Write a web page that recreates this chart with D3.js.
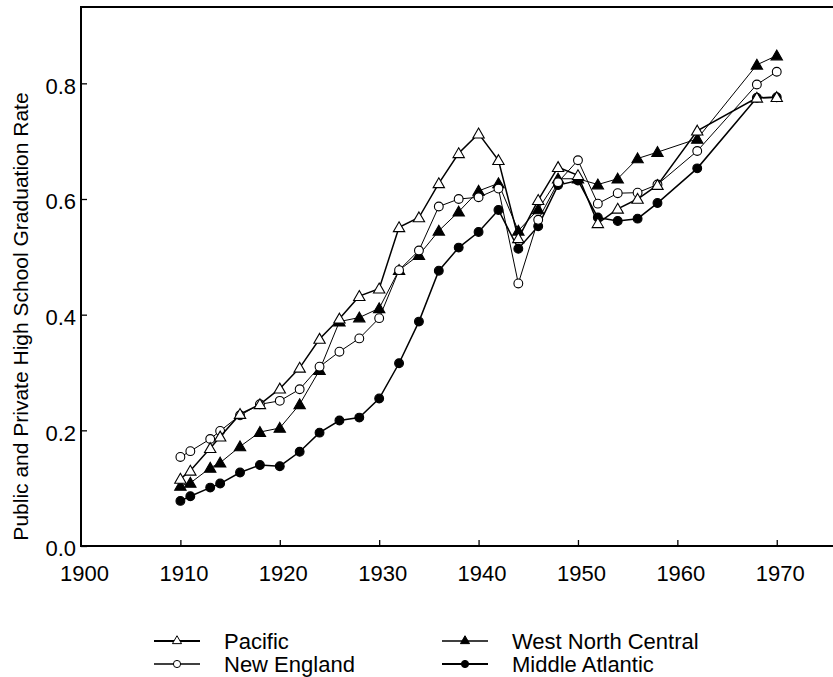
<!DOCTYPE html>
<html>
<head>
<meta charset="utf-8">
<script src="https://cdn.jsdelivr.net/npm/d3@7"></script>
<style>
  body { margin: 0; background: #fff; }
  svg { display: block; font-family: "Liberation Sans", Arial, sans-serif; }
</style>
</head>
<body>
<svg></svg>
<script>
// Svg element dimensions
const width = 833;
const height = 677;

// Data
const years = [1910, 1911, 1913, 1914, 1916, 1918, 1920, 1922, 1924, 1926, 1928, 1930, 1932, 1934, 1936,
  1938, 1940, 1942, 1944, 1946, 1948, 1950, 1952, 1954, 1956, 1958, 1962, 1968, 1970];

const pacific = [0.116, 0.130, 0.169, 0.189, 0.228, 0.245, 0.272, 0.308, 0.358, 0.393, 0.432, 0.445, 0.551, 0.568, 0.627,
  0.679, 0.713, 0.667, 0.532, 0.598, 0.655, 0.641, 0.558, 0.583, 0.600, 0.624, 0.718, 0.775, 0.776];
const newEngland = [0.154, 0.164, 0.185, 0.199, 0.226, 0.245, 0.251, 0.271, 0.310, 0.336, 0.359, 0.394, 0.477, 0.511, 0.587,
  0.600, 0.603, 0.618, 0.454, 0.564, 0.629, 0.667, 0.592, 0.610, 0.611, 0.625, 0.683, 0.798, 0.820];
const westNorthCentral = [0.104, 0.109, 0.135, 0.144, 0.172, 0.197, 0.204, 0.245, 0.304, 0.388, 0.395, 0.411, 0.477, 0.503, 0.545,
  0.578, 0.614, 0.627, 0.545, 0.582, 0.635, 0.635, 0.625, 0.635, 0.670, 0.681, 0.704, 0.832, 0.848];
const middleAtlantic = [0.078, 0.086, 0.101, 0.108, 0.127, 0.140, 0.138, 0.163, 0.196, 0.217, 0.222, 0.255, 0.316, 0.388, 0.476,
  0.516, 0.543, 0.581, 0.514, 0.553, 0.624, 0.632, 0.568, 0.562, 0.566, 0.593, 0.653, 0.775, 0.776];

const xTicks = [1900, 1910, 1920, 1930, 1940, 1950, 1960, 1970];
const yTicks = [0, 0.2, 0.4, 0.6, 0.8];

const series = [
  { name: "Middle Atlantic", values: middleAtlantic, shape: "circle", fill: "#000", lw: 1.5 },
  { name: "West North Central", values: westNorthCentral, shape: "triangle", fill: "#000", lw: 1 },
  { name: "New England", values: newEngland, shape: "circle", fill: "#fff", lw: 1 },
  { name: "Pacific", values: pacific, shape: "triangle", fill: "#fff", lw: 1.5 }
];

const svg = d3.select("svg").attr("width", width).attr("height", height);

// Plot area
const margin = { left: 81, right: 833, top: 7, bottom: 546 };

const xScale = d3.scaleLinear().domain([1900, 1975.66]).range([margin.left, margin.right]);
const yScale = d3.scaleLinear().domain([0, 0.932]).range([margin.bottom, margin.top]);

// Frame (no right edge, it runs off the picture)
svg.append("path")
  .attr("d", `M${margin.right},${margin.top}H${margin.left}V${margin.bottom}H${margin.right}`)
  .attr("fill", "none")
  .attr("stroke", "#000")
  .attr("stroke-width", 2);

// Axes with inward ticks
const xAxisG = svg.append("g")
  .attr("transform", `translate(0,${margin.bottom})`)
  .call(d3.axisBottom(xScale).tickValues(xTicks).tickSize(-6).tickPadding(19).tickFormat(d3.format("d")));

const yAxisG = svg.append("g")
  .attr("transform", `translate(${margin.left},0)`)
  .call(d3.axisLeft(yScale).tickValues(yTicks).tickSize(-6).tickPadding(5).tickFormat(d3.format(".1f")));

[xAxisG, yAxisG].forEach(g => {
  g.select(".domain").remove();
  g.selectAll(".tick line").attr("stroke", "#000").attr("stroke-width", 1.3);
  g.selectAll(".tick text").attr("fill", "#000").style("font-size", "22px")
    .style("font-family", "'Liberation Sans', Arial, sans-serif");
});
xAxisG.selectAll(".tick text").attr("dx", 3);
xAxisG.selectAll(".tick").filter(d => d === 1900).select("line").remove();
yAxisG.selectAll(".tick text").attr("dy", "0.45em");

// Y axis title
svg.append("text")
  .attr("transform", `translate(28,${(margin.top + margin.bottom) / 2 + 40}) rotate(-90)`)
  .attr("text-anchor", "middle")
  .style("font-size", "21px")
  .text("Public and Private High School Graduation Rate");

const tri = d3.symbol().type(d3.symbolTriangle).size(56);

const line = d3.line()
  .x((d, i) => xScale(years[i]))
  .y(d => yScale(d));

// Lines and markers
series.forEach(s => {
  const g = svg.append("g");
  g.append("path")
    .datum(s.values)
    .attr("d", line)
    .attr("fill", "none")
    .attr("stroke", "#000")
    .attr("stroke-width", s.lw);

  const pts = s.values.map((v, i) => ({ x: xScale(years[i]), y: yScale(v) }));
  if (s.shape === "circle") {
    g.selectAll("circle").data(pts).enter().append("circle")
      .attr("cx", d => d.x).attr("cy", d => d.y).attr("r", 4.4)
      .attr("fill", s.fill).attr("stroke", "#000").attr("stroke-width", 1.1);
  } else {
    g.selectAll("path.m").data(pts).enter().append("path")
      .attr("class", "m")
      .attr("d", tri)
      .attr("transform", d => `translate(${d.x},${d.y + 1})`)
      .attr("fill", s.fill).attr("stroke", "#000").attr("stroke-width", 1.1);
  }
});

// Legend
const legendItems = [
  { name: "Pacific", s: series[3], x: 154, y: 641 },
  { name: "New England", s: series[2], x: 154, y: 664 },
  { name: "West North Central", s: series[1], x: 442, y: 641 },
  { name: "Middle Atlantic", s: series[0], x: 442, y: 664 }
];

const legend = svg.append("g");
legendItems.forEach(it => {
  const g = legend.append("g").attr("transform", `translate(${it.x},${it.y})`);
  g.append("line").attr("x1", 0).attr("x2", 46).attr("y1", 0).attr("y2", 0)
    .attr("stroke", "#000").attr("stroke-width", it.s.lw + 0.3);
  if (it.s.shape === "circle") {
    g.append("circle").attr("cx", 23).attr("cy", 0).attr("r", 3.6)
      .attr("fill", it.s.fill).attr("stroke", "#000").attr("stroke-width", 1);
  } else {
    g.append("path").attr("d", d3.symbol().type(d3.symbolTriangle).size(36))
      .attr("transform", "translate(23,0)")
      .attr("fill", it.s.fill).attr("stroke", "#000").attr("stroke-width", 1);
  }
  g.append("text").attr("x", 70).attr("y", 0).attr("dy", "0.36em")
    .style("font-size", "22px").text(it.name);
});
</script>
</body>
</html>
